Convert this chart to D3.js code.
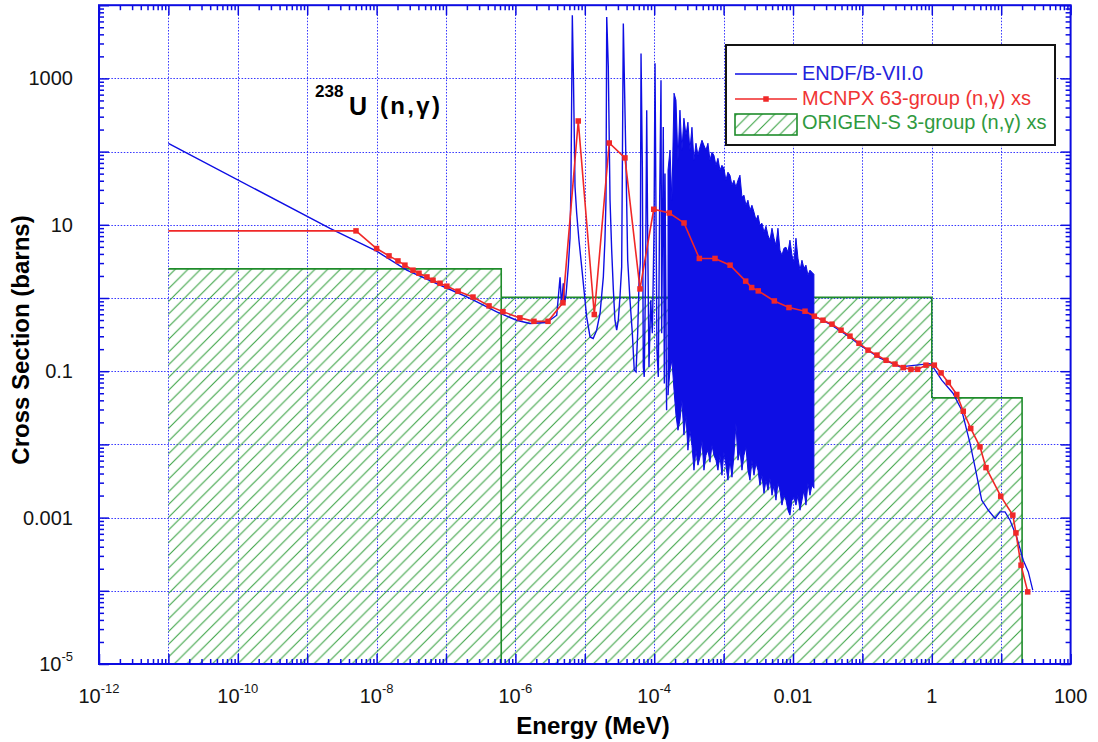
<!DOCTYPE html>
<html>
<head>
<meta charset="utf-8">
<title>238U (n,γ) capture cross section</title>
<script src="https://cdn.jsdelivr.net/npm/d3@7/dist/d3.min.js"></script>
<style>
  html, body { margin: 0; padding: 0; background: #ffffff; }
  svg { display: block; font-family: "Liberation Sans", Arial, Helvetica, sans-serif; }
</style>
</head>
<body>
<svg id="chart" width="1098" height="742"></svg>
<script>
// ---------------- data ----------------
// ENDF/B-VII.0 (n,γ): thermal 1/v branch and the first resolved resonances  [E (MeV), σ (b)]
const endfLow = [
  [1e-11, 130], [2.13e-9, 8.91], [1e-8, 4.36], [2.72e-8, 2.40], [1.02e-7, 1.37],
  [2.22e-7, 0.985], [5.38e-7, 0.646], [1.04e-6, 0.497], [1.62e-6, 0.449], [2.82e-6, 0.462],
  [3.94e-6, 0.582], [4.40e-6, 1.92], [4.61e-6, 0.80], [4.90e-6, 1.59], [5.13e-6, 0.877],
  [5.36e-6, 1.09], [5.78e-6, 2.66], [6.12e-6, 6.56], [6.32e-6, 34.8], [6.61e-6, 7290],
  [6.87e-6, 945], [7.23e-6, 33.0], [7.64e-6, 14.4], [8.24e-6, 6.16], [9.02e-6, 2.66],
  [9.84e-6, 1.16], [1.064e-5, 0.552], [1.19e-5, 0.294], [1.32e-5, 0.280], [1.48e-5, 0.363],
  [1.66e-5, 0.619], [1.85e-5, 1.94], [1.95e-5, 6.16], [2.02e-5, 21.7], [2.07e-5, 6920],
  [2.18e-5, 1440], [2.31e-5, 21.7], [2.44e-5, 4.50], [2.58e-5, 1.28], [2.72e-5, 0.498],
  [2.88e-5, 0.363], [3.04e-5, 0.498], [3.21e-5, 1.035], [3.40e-5, 2.66], [3.59e-5, 5620],
  [3.93e-5, 61.8], [4.15e-5, 3.28], [4.48e-5, 0.933], [4.84e-5, 0.330], [5.16e-5, 0.1032],
  [5.47e-5, 0.0977], [5.78e-5, 0.330], [6.04e-5, 1.59], [6.31e-5, 2.99], [6.46e-5, 2190],
  [6.75e-5, 61.8], [6.97e-5, 0.1145], [7.19e-5, 0.0836], [7.53e-5, 2.66], [7.80e-5, 368],
  [8.05e-5, 7.6], [8.41e-5, 0.1145], [8.92e-5, 0.933], [9.40e-5, 0.33], [9.93e-5, 7.6],
  [1.028e-4, 1610], [1.062e-4, 12.8], [1.096e-4, 0.194], [1.146e-4, 0.0836], [1.199e-4, 21.7],
  [1.253e-4, 945], [1.282e-4, 0.33], [1.352e-4, 217], [1.40e-4, 0.068], [1.432e-4, 50.2],
  [1.51e-4, 0.0293]
];

// dense resolved-resonance region  [E (MeV), lower envelope (b), upper envelope (b)]
const endfBand = [
  [1.58e-4, 0.047, 55.7], [1.69e-4, 0.103, 105], [1.80e-4, 0.141, 21.7], [1.93e-4, 0.055, 628],
  [2.06e-4, 0.0251, 504], [2.20e-4, 0.0156, 76], [2.35e-4, 0.0214, 368], [2.51e-4, 0.0402, 105],
  [2.68e-4, 0.0134, 286], [2.87e-4, 0.0251, 168], [3.06e-4, 0.00833, 252], [3.27e-4, 0.0156, 105],
  [3.50e-4, 0.00975, 215], [3.74e-4, 0.00444, 76], [4.00e-4, 0.00833, 130], [4.27e-4, 0.0052, 89],
  [4.56e-4, 0.00668, 115], [4.88e-4, 0.0114, 143], [5.21e-4, 0.00444, 122], [5.57e-4, 0.00711, 105],
  [5.95e-4, 0.00833, 130], [6.36e-4, 0.00571, 76], [6.80e-4, 0.00975, 98], [7.26e-4, 0.00711, 89],
  [7.76e-4, 0.00608, 65], [8.29e-4, 0.00444, 81], [8.86e-4, 0.00711, 55.7], [9.47e-4, 0.00379, 65],
  [1.01e-3, 0.00783, 59.3], [1.08e-3, 0.0052, 40.6], [1.155e-3, 0.00324, 52.4], [1.235e-3, 0.00608, 47.6],
  [1.32e-3, 0.00356, 34.8], [1.41e-3, 0.00711, 40.6], [1.505e-3, 0.0195, 32.7], [1.61e-3, 0.00608, 40.6],
  [1.72e-3, 0.00833, 47.6], [1.84e-3, 0.00444, 23.8], [1.965e-3, 0.00711, 25.4], [2.10e-3, 0.00916, 18.5],
  [2.24e-3, 0.00444, 21.7], [2.40e-3, 0.00324, 15.8], [2.56e-3, 0.00608, 18.5], [2.74e-3, 0.00379, 14.9],
  [2.93e-3, 0.00553, 11.6], [3.13e-3, 0.00444, 13.5], [3.34e-3, 0.00277, 9.87], [3.57e-3, 0.00379, 10.5],
  [3.82e-3, 0.00215, 7.9], [4.08e-3, 0.00324, 9.55], [4.36e-3, 0.00237, 7.21], [4.66e-3, 0.00345, 6.16],
  [4.98e-3, 0.00202, 8.98], [5.32e-3, 0.00277, 6.56], [5.68e-3, 0.00173, 5.26], [6.07e-3, 0.00295, 8.98],
  [6.49e-3, 0.00237, 4.50], [6.93e-3, 0.00148, 3.84], [7.41e-3, 0.00202, 4.79], [7.92e-3, 0.00173, 4.94],
  [8.46e-3, 0.00126, 4.23], [9.04e-3, 0.00108, 6.16], [9.66e-3, 0.00173, 3.84], [1.032e-2, 0.0019, 3.08],
  [1.103e-2, 0.00148, 6.56], [1.179e-2, 0.00202, 3.50], [1.26e-2, 0.00126, 2.40], [1.346e-2, 0.00173, 3.28],
  [1.438e-2, 0.00237, 2.55], [1.537e-2, 0.00148, 2.81], [1.642e-2, 0.00295, 2.05], [1.755e-2, 0.00202, 2.40],
  [1.875e-2, 0.00277, 2.25], [2.00e-2, 0.00252, 2.11]
];

// unresolved and fast region  [E (MeV), σ (b)]
const endfHigh = [
  [2.01e-2, 0.564], [3.41e-2, 0.439], [6.62e-2, 0.291], [9.23e-2, 0.226], [0.1795, 0.151],
  [0.348, 0.1145], [0.942, 0.127], [1.04, 0.1145], [1.39, 0.0753], [2.02, 0.050],
  [2.70, 0.0293], [3.55, 0.0104], [4.19, 0.00493], [5.24, 0.00173], [6.52, 0.00126],
  [8.15, 0.000973], [9.62, 0.0012], [11.35, 0.0012], [13.4, 0.00092], [16.7, 0.000545],
  [20.8, 0.000262], [24.6, 0.000181], [28.5, 0.000102]
];

// MCNPX 63-group (n,γ) cross sections  [E (MeV), σ (b)]
const mcnpx = [
  [1e-11, 8.26], [5.05e-9, 8.26], [1.0e-8, 4.74], [1.51e-8, 3.76], [2.03e-8, 3.21],
  [2.56e-8, 2.81], [3.34e-8, 2.40], [4.08e-8, 2.18], [5.32e-8, 1.94], [6.5e-8, 1.75],
  [8.2e-8, 1.59], [1.03e-7, 1.45], [1.49e-7, 1.24], [2.45e-7, 1.03], [4.17e-7, 0.78],
  [6.62e-7, 0.65], [1.16e-6, 0.535], [1.85e-6, 0.48], [2.95e-6, 0.48], [4.85e-6, 0.86],
  [8.05e-6, 262], [1.37e-5, 0.595], [2.25e-5, 131], [3.79e-5, 82], [6.24e-5, 1.33],
  [9.84e-5, 16.3], [1.65e-4, 14.5], [2.69e-4, 10.6], [4.47e-4, 3.47], [7.52e-4, 3.47],
  [1.24e-3, 2.81], [2.08e-3, 1.70], [2.54e-3, 1.39], [3.16e-3, 1.25], [5.38e-3, 0.912],
  [8.75e-3, 0.741], [1.49e-2, 0.66], [2.03e-2, 0.564], [2.70e-2, 0.497], [3.65e-2, 0.439],
  [4.92e-2, 0.363], [6.62e-2, 0.301], [8.93e-2, 0.241], [0.1205, 0.194], [0.162, 0.166],
  [0.219, 0.141], [0.295, 0.125], [0.388, 0.112], [0.501, 0.106], [0.627, 0.106],
  [0.824, 0.121], [1.087, 0.121], [1.36, 0.0948], [1.73, 0.0701], [2.29, 0.0481],
  [2.84, 0.0284], [3.64, 0.0165], [4.95, 0.00925], [6.04, 0.00482], [9.84, 0.00196],
  [14.7, 0.00108], [16.3, 0.000618], [19.3, 0.000224], [24.1, 9.66e-5]
];

// ORIGEN-S 3-group structure: boundaries (MeV) and group cross sections (b)
const origenBounds = [1e-11, 6.25e-7, 1.0, 20.0];
const origenXS = [2.5, 1.02, 0.0432];
const origenEdgeToFloor = [true, false, true];

// axes
const xDomain = [1e-12, 100];
const yDomain = [1e-5, 1e4];
const xTickValues = [1e-12, 1e-10, 1e-8, 1e-6, 1e-4, 1e-2, 1, 100];
const xTickLabels = ["10^-12", "10^-10", "10^-8", "10^-6", "10^-4", "0.01", "1", "100"];
const yTickValues = [1e-5, 1e-3, 1e-1, 10, 1000];
const yTickLabels = ["10^-5", "0.001", "0.1", "10", "1000"];
const seriesNames = ["ENDF/B-VII.0", "MCNPX 63-group (n,\u03b3) xs", "ORIGEN-S 3-group (n,\u03b3) xs"];

// ---------------- layout & style ----------------
const W = 1098, H = 742;
const P = { left: 99, right: 1070.6, top: 5.2, bottom: 664 };
const COL = {
  axis: "#0c0ce2", grid: "#3535ff", endf: "#0e0ee4", mcnpx: "#f02828",
  hatch: "#3aa344", origen: "#1f8c2b", text: "#141414",
  legEndf: "#2323dc", legMcnpx: "#f03434", legOrigen: "#2f9a40"
};
const FS = 20;

const svg = d3.select("#chart");
svg.append("rect").attr("width", W).attr("height", H).attr("fill", "#fff");

const x = d3.scaleLog().domain(xDomain).range([P.left, P.right]);
const y = d3.scaleLog().domain(yDomain).range([P.bottom, P.top]);

const defs = svg.append("defs");
defs.append("clipPath").attr("id", "plotClip")
  .append("rect").attr("x", P.left).attr("y", P.top)
  .attr("width", P.right - P.left).attr("height", P.bottom - P.top);

const hatch = defs.append("pattern").attr("id", "hatch")
  .attr("patternUnits", "userSpaceOnUse").attr("width", 12.7).attr("height", 12.7);
hatch.append("path")
  .attr("d", "M-1,1 L1,-1 M0,12.7 L12.7,0 M11.7,13.7 L13.7,11.7")
  .attr("stroke", COL.hatch).attr("stroke-width", 1.1).attr("fill", "none");

// decade grid
const decadesX = d3.range(-11, 2).map(p => Math.pow(10, p));
const decadesY = d3.range(-4, 4).map(p => Math.pow(10, p));
const grid = svg.append("g").attr("stroke", COL.grid).attr("stroke-width", 1)
  .attr("stroke-dasharray", "1.5,1.6");
grid.selectAll("line.gx").data(decadesX).join("line").attr("class", "gx")
  .attr("x1", d => Math.round(x(d)) + 0.5).attr("x2", d => Math.round(x(d)) + 0.5)
  .attr("y1", P.top).attr("y2", P.bottom);
grid.selectAll("line.gy").data(decadesY).join("line").attr("class", "gy")
  .attr("y1", d => Math.round(y(d)) + 0.5).attr("y2", d => Math.round(y(d)) + 0.5)
  .attr("x1", P.left).attr("x2", P.right);

const plot = svg.append("g").attr("clip-path", "url(#plotClip)");

// ORIGEN-S groups
const groups = origenXS.map((v, i) => ({ e0: origenBounds[i], e1: origenBounds[i + 1], v, floor: origenEdgeToFloor[i], next: origenXS[i + 1] }));
plot.selectAll("rect.grp").data(groups).join("rect").attr("class", "grp")
  .attr("x", d => x(d.e0)).attr("width", d => x(d.e1) - x(d.e0))
  .attr("y", d => y(d.v)).attr("height", d => P.bottom - y(d.v))
  .attr("fill", "url(#hatch)");
plot.selectAll("path.grpEdge").data(groups).join("path").attr("class", "grpEdge")
  .attr("d", d => `M${x(d.e0)},${y(d.v)}H${x(d.e1)}V${d.floor ? P.bottom : y(d.next)}`)
  .attr("fill", "none").attr("stroke", COL.origen).attr("stroke-width", 1.6);

// ENDF/B-VII.0
const line = d3.line().x(d => x(d[0])).y(d => y(d[1]));
plot.append("path").datum(endfLow).attr("d", line)
  .attr("fill", "none").attr("stroke", COL.endf).attr("stroke-width", 1.4).attr("stroke-linejoin", "miter");
const band = d3.area().x(d => x(d[0])).y0(d => y(d[1])).y1(d => y(d[2]));
plot.append("path").datum(endfBand).attr("d", band)
  .attr("fill", COL.endf).attr("stroke", COL.endf).attr("stroke-width", 1);
plot.append("path").datum(endfHigh).attr("d", line)
  .attr("fill", "none").attr("stroke", COL.endf).attr("stroke-width", 1.3);

// MCNPX 63-group
plot.append("path").datum(mcnpx).attr("d", line)
  .attr("fill", "none").attr("stroke", COL.mcnpx).attr("stroke-width", 1.6);
plot.selectAll("rect.mk").data(mcnpx.slice(1)).join("rect").attr("class", "mk")
  .attr("x", d => x(d[0]) - 2.75).attr("y", d => y(d[1]) - 2.75)
  .attr("width", 5.5).attr("height", 5.5).attr("fill", COL.mcnpx);

// frame axes with inward ticks
const minorX = [], minorY = [];
d3.range(-12, 2).forEach(p => d3.range(2, 10).forEach(k => minorX.push(k * Math.pow(10, p))));
d3.range(-5, 4).forEach(p => d3.range(2, 10).forEach(k => minorY.push(k * Math.pow(10, p))));
const majorX = d3.range(-12, 3).map(p => Math.pow(10, p));
const majorY = d3.range(-5, 5).map(p => Math.pow(10, p));

function frameAxis(gen, tr, vals, size) {
  svg.append("g").attr("transform", tr)
    .call(gen.tickValues(vals).tickSize(size).tickSizeOuter(0).tickFormat(""))
    .call(g => g.select(".domain").remove())
    .call(g => g.selectAll(".tick line").attr("stroke", COL.axis).attr("stroke-width", 1.5));
}
frameAxis(d3.axisBottom(x), `translate(0,${P.bottom})`, majorX, -10);
frameAxis(d3.axisBottom(x), `translate(0,${P.bottom})`, minorX, -5);
frameAxis(d3.axisTop(x), `translate(0,${P.top})`, majorX, -10);
frameAxis(d3.axisTop(x), `translate(0,${P.top})`, minorX, -5);
frameAxis(d3.axisLeft(y), `translate(${P.left},0)`, majorY, -10);
frameAxis(d3.axisLeft(y), `translate(${P.left},0)`, minorY, -5);
frameAxis(d3.axisRight(y), `translate(${P.right},0)`, majorY, -10);
frameAxis(d3.axisRight(y), `translate(${P.right},0)`, minorY, -5);

svg.append("rect").attr("x", P.left).attr("y", P.top)
  .attr("width", P.right - P.left).attr("height", P.bottom - P.top)
  .attr("fill", "none").attr("stroke", COL.axis).attr("stroke-width", 2);

// tick labels (a "^" marks an exponent)
function powerText(sel, str) {
  const parts = str.split("^");
  sel.append("tspan").text(parts[0]);
  if (parts.length > 1) {
    sel.append("tspan").attr("font-size", 13).attr("dy", -10).text(parts[1]);
  }
}
svg.append("g").selectAll("text").data(xTickValues).join("text")
  .attr("x", d => x(d)).attr("y", 703).attr("text-anchor", "middle")
  .attr("font-size", FS).attr("fill", COL.text)
  .each(function (d, i) { powerText(d3.select(this), xTickLabels[i]); });
svg.append("g").selectAll("text").data(yTickValues).join("text")
  .attr("x", 73).attr("y", d => y(d) + 7).attr("text-anchor", "end")
  .attr("font-size", FS).attr("fill", COL.text)
  .each(function (d, i) { powerText(d3.select(this), yTickLabels[i]); });

// axis titles
svg.append("text").attr("x", 593).attr("y", 734).attr("text-anchor", "middle")
  .attr("font-size", 24).attr("font-weight", "bold").attr("fill", "#000")
  .text("Energy (MeV)");
svg.append("text").attr("transform", "translate(28.5,340) rotate(-90)")
  .attr("text-anchor", "middle").attr("font-size", 24).attr("font-weight", "bold").attr("fill", "#000")
  .text("Cross Section (barns)");

// nuclide / reaction annotation
const ann = svg.append("text").attr("font-weight", "bold").attr("fill", "#000");
ann.append("tspan").attr("x", 315).attr("y", 97).attr("font-size", 17).text("238");
ann.append("tspan").attr("x", 349).attr("y", 115).attr("font-size", 25).text("U");
ann.append("tspan").attr("x", 380).attr("y", 114).attr("font-size", 24)
  .attr("textLength", 60).attr("lengthAdjust", "spacing").text("(n,\u03b3)");

// legend
const lg = svg.append("g");
lg.append("rect").attr("x", 726).attr("y", 45).attr("width", 329).attr("height", 100)
  .attr("fill", "#fff").attr("stroke", "#141414").attr("stroke-width", 2);
lg.append("line").attr("x1", 735).attr("x2", 797).attr("y1", 74).attr("y2", 74)
  .attr("stroke", COL.endf).attr("stroke-width", 1.5);
lg.append("line").attr("x1", 735).attr("x2", 797).attr("y1", 99).attr("y2", 99)
  .attr("stroke", COL.mcnpx).attr("stroke-width", 1.6);
lg.append("rect").attr("x", 763.25).attr("y", 96.25).attr("width", 5.5).attr("height", 5.5).attr("fill", COL.mcnpx);
lg.append("rect").attr("x", 735).attr("y", 114).attr("width", 62).attr("height", 21)
  .attr("fill", "url(#hatch)").attr("stroke", COL.origen).attr("stroke-width", 1.6);
const legColors = [COL.legEndf, COL.legMcnpx, COL.legOrigen];
const legY = [80, 105, 129];
lg.selectAll("text").data(seriesNames).join("text")
  .attr("x", 802).attr("y", (d, i) => legY[i]).attr("font-size", FS)
  .attr("fill", (d, i) => legColors[i]).text(d => d);
</script>
</body>
</html>
